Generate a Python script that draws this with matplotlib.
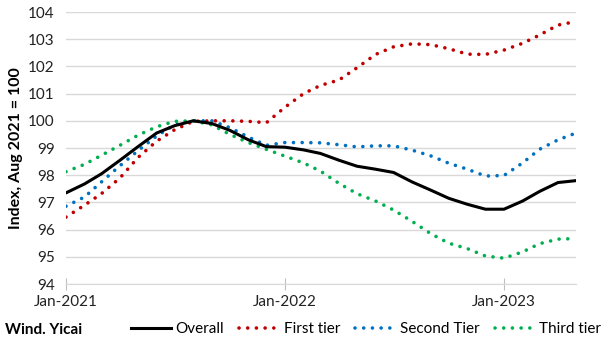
import numpy as np
import pandas as pd
import matplotlib
matplotlib.use("Agg")
import matplotlib.pyplot as plt
import matplotlib.dates as mdates
from matplotlib.lines import Line2D

plt.rcParams['font.family'] = ['Lato', 'DejaVu Sans']

# monthly index values, Aug 2021 = 100
months = pd.date_range("2021-01-01", "2023-05-01", freq="MS")

overall = [97.35, 97.68, 98.05, 98.55, 99.05, 99.55, 99.82, 100.0, 99.9, 99.65, 99.3, 99.05,
           99.03, 98.93, 98.8, 98.55, 98.33, 98.22, 98.1, 97.75, 97.45, 97.15, 96.93, 96.75,
           96.75, 97.05, 97.4, 97.73, 97.8]
first_tier = [96.46, 96.9, 97.32, 97.9, 98.65, 99.25, 99.67, 99.98, 100.0, 100.0, 99.98, 99.93,
              100.5, 101.0, 101.3, 101.5, 101.95, 102.44, 102.72, 102.83, 102.8, 102.65, 102.45, 102.44,
              102.6, 102.85, 103.15, 103.52, 103.65]
second_tier = [96.86, 97.2, 97.75, 98.35, 98.9, 99.44, 99.85, 100.0, 100.0, 99.75, 99.4, 99.1,
               99.2, 99.2, 99.19, 99.12, 99.04, 99.08, 99.08, 98.92, 98.71, 98.44, 98.22, 97.97,
               97.99, 98.45, 98.95, 99.3, 99.55]
third_tier = [98.13, 98.4, 98.73, 99.1, 99.47, 99.78, 99.98, 100.0, 99.85, 99.5, 99.2, 98.95,
              98.7, 98.45, 98.15, 97.7, 97.32, 97.05, 96.72, 96.3, 95.85, 95.5, 95.3, 95.03,
              94.95, 95.18, 95.48, 95.65, 95.67]

series = [
    ("Overall", overall, "black", "-"),
    ("First tier", first_tier, "#C00000", ":"),
    ("Second Tier", second_tier, "#0070C0", ":"),
    ("Third tier", third_tier, "#00B050", ":"),
]

fig = plt.figure(figsize=(6.06, 3.44), dpi=100)
ax = fig.add_axes([66 / 606, 1 - 284 / 344, (576 - 66) / 606, (284 - 12) / 344])

dot = (0, (0.01, 2.4))
handles = []
for name, vals, color, style in series:
    if style == "-":
        ax.plot(months, vals, color=color, lw=2.2, solid_capstyle="round", zorder=3)
        handles.append(Line2D([], [], color=color, lw=2.2))
    else:
        ax.plot(months, vals, color=color, lw=2.6, linestyle=dot,
                dash_capstyle="round", zorder=2)
        handles.append(Line2D([], [], color=color, lw=2.6, linestyle=dot,
                              dash_capstyle="round"))

ax.set_ylim(94, 104)
ax.set_yticks(range(94, 105))
ax.set_xlim(months[0], months[-1])
ax.xaxis.set_major_locator(mdates.YearLocator())
ax.xaxis.set_major_formatter(mdates.DateFormatter("%b-%Y"))

ax.grid(axis="y", color="#d9d9d9", lw=1)
ax.set_axisbelow(True)
for s in ["top", "right", "left"]:
    ax.spines[s].set_visible(False)
ax.spines["bottom"].set_color("#d9d9d9")
ax.tick_params(axis="y", length=0, labelsize=11, colors="#222222", pad=8)
ax.tick_params(axis="x", length=8, direction="inout", color="#bfbfbf",
               labelsize=11, labelcolor="#222222", pad=4)

ax.set_ylabel("Index, Aug 2021 = 100", fontsize=11.5, fontweight="bold", labelpad=4)

fig.text(5 / 606, 1 - 330 / 344, "Wind. Yicai", fontsize=11, fontweight="bold",
         va="center", ha="left")
fig.legend(handles, [s[0] for s in series], loc="center", ncol=4,
           bbox_to_anchor=(366 / 606, 1 - 329 / 344), frameon=False,
           fontsize=11, handlelength=2.6, handletextpad=0.3, columnspacing=1.0,
           borderpad=0.2)

fig.savefig("out.png", dpi=100)
